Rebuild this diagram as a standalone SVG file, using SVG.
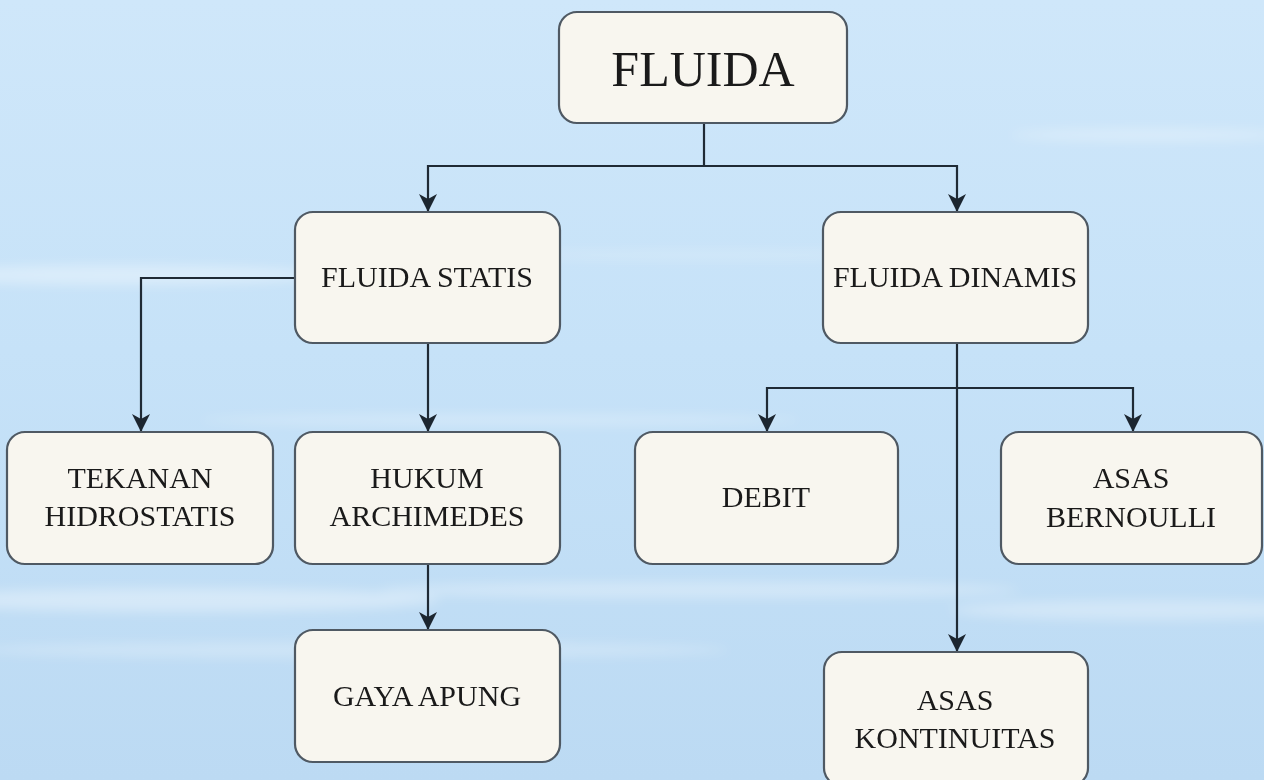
<svg xmlns="http://www.w3.org/2000/svg" width="1264" height="780" viewBox="0 0 1264 780">
  <defs>
    <linearGradient id="sky" x1="0" y1="0" x2="0" y2="1">
      <stop offset="0" stop-color="#cfe7fa"/>
      <stop offset="0.45" stop-color="#c6e2f8"/>
      <stop offset="1" stop-color="#bcdaf3"/>
    </linearGradient>
    <filter id="blur" x="-20%" y="-200%" width="140%" height="500%">
      <feGaussianBlur stdDeviation="6"/>
    </filter>
    <marker id="arrow" viewBox="0 0 18 20" markerWidth="18" markerHeight="20" refX="18" refY="10" orient="auto" markerUnits="userSpaceOnUse">
      <path d="M0,1 L18,10 L0,19 L5,10 Z" fill="#1c2630"/>
    </marker>
    <style>
      .box { fill: #f8f6ef; stroke: #4f5963; stroke-width: 2.2; }
      .lbl { font-family: "Liberation Serif", "Times New Roman", serif; font-size: 30px; fill: #1a1a1a; text-anchor: middle; }
      .big { font-size: 50px; }
      .con { fill: none; stroke: #1f2a35; stroke-width: 2.2; marker-end: url(#arrow); }
      .line { fill: none; stroke: #1f2a35; stroke-width: 2.2; }
    </style>
  </defs>

  <rect x="0" y="0" width="1264" height="780" fill="url(#sky)"/>
  <g id="streaks" fill="#ffffff" filter="url(#blur)">
    <ellipse cx="120" cy="275" rx="200" ry="10" opacity="0.35"/>
    <ellipse cx="1150" cy="135" rx="140" ry="6" opacity="0.3"/>
    <ellipse cx="500" cy="420" rx="300" ry="6" opacity="0.25"/>
    <ellipse cx="180" cy="600" rx="260" ry="12" opacity="0.35"/>
    <ellipse cx="700" cy="590" rx="320" ry="8" opacity="0.3"/>
    <ellipse cx="1150" cy="610" rx="200" ry="10" opacity="0.3"/>
    <ellipse cx="350" cy="650" rx="380" ry="8" opacity="0.25"/>
    <ellipse cx="700" cy="255" rx="200" ry="5" opacity="0.2"/>
  </g>

  <g id="connectors">
    <path class="line" d="M704,123 V166"/>
    <path class="con" d="M704,166 H428 V212"/>
    <path class="con" d="M704,166 H957 V212"/>
    <path class="con" d="M295,278 H141 V432"/>
    <path class="con" d="M428,343 V432"/>
    <path class="con" d="M428,564 V630"/>
    <path class="con" d="M957,343 V652"/>
    <path class="con" d="M957,388 H767 V432"/>
    <path class="con" d="M957,388 H1133 V432"/>
  </g>

  <g id="fluida">
    <rect class="box" x="559" y="12" width="288" height="111" rx="18"/>
    <text class="lbl big" x="703" y="86">FLUIDA</text>
  </g>
  <g id="fluida-statis">
    <rect class="box" x="295" y="212" width="265" height="131" rx="18"/>
    <text class="lbl" x="427" y="287">FLUIDA STATIS</text>
  </g>
  <g id="fluida-dinamis">
    <rect class="box" x="823" y="212" width="265" height="131" rx="18"/>
    <text class="lbl" x="955" y="287">FLUIDA DINAMIS</text>
  </g>
  <g id="tekanan-hidrostatis">
    <rect class="box" x="7" y="432" width="266" height="132" rx="18"/>
    <text class="lbl" x="140" y="488">TEKANAN</text>
    <text class="lbl" x="140" y="526">HIDROSTATIS</text>
  </g>
  <g id="hukum-archimedes">
    <rect class="box" x="295" y="432" width="265" height="132" rx="18"/>
    <text class="lbl" x="427" y="488">HUKUM</text>
    <text class="lbl" x="427" y="526">ARCHIMEDES</text>
  </g>
  <g id="gaya-apung">
    <rect class="box" x="295" y="630" width="265" height="132" rx="18"/>
    <text class="lbl" x="427" y="706">GAYA APUNG</text>
  </g>
  <g id="debit">
    <rect class="box" x="635" y="432" width="263" height="132" rx="18"/>
    <text class="lbl" x="766" y="507">DEBIT</text>
  </g>
  <g id="asas-bernoulli">
    <rect class="box" x="1001" y="432" width="261" height="132" rx="18"/>
    <text class="lbl" x="1131" y="488">ASAS</text>
    <text class="lbl" x="1131" y="527">BERNOULLI</text>
  </g>
  <g id="asas-kontinuitas">
    <rect class="box" x="824" y="652" width="264" height="134" rx="18"/>
    <text class="lbl" x="955" y="710">ASAS</text>
    <text class="lbl" x="955" y="748">KONTINUITAS</text>
  </g>
</svg>
